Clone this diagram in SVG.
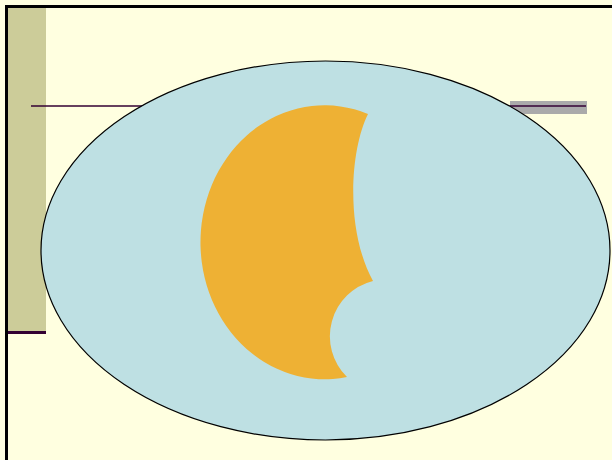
<svg xmlns="http://www.w3.org/2000/svg" width="612" height="460" viewBox="0 0 612 460">
<style>
.frame{fill:none;stroke:#000;stroke-width:3}
.rule{stroke:#330033;stroke-width:1.5}
</style>
<rect x="0" y="0" width="612" height="460" fill="#FFFFE0"/>
<rect x="8" y="8" width="38" height="324" fill="#CCCC99"/>
<line class="rule" x1="8" y1="332.5" x2="46" y2="332.5" style="stroke-width:3"/>
<rect x="510" y="101" width="77" height="13" fill="#AAAAAA"/>
<line class="rule" x1="31" y1="106" x2="586" y2="106"/>
<path class="frame" d="M6.5,460 V6.5 H612"/>
<g id="ellipse">
<ellipse cx="325.5" cy="250.5" rx="284.5" ry="189.5" fill="#BEE0E3" stroke="#000" stroke-width="1.2"/>
</g>
<g id="crescent">
<path d="M368,114 C350,150 345,230 373,281 A57,57 0 0 0 347,377 A124,137 0 1 1 368,114 Z" fill="#EEB134"/>
</g>
</svg>
